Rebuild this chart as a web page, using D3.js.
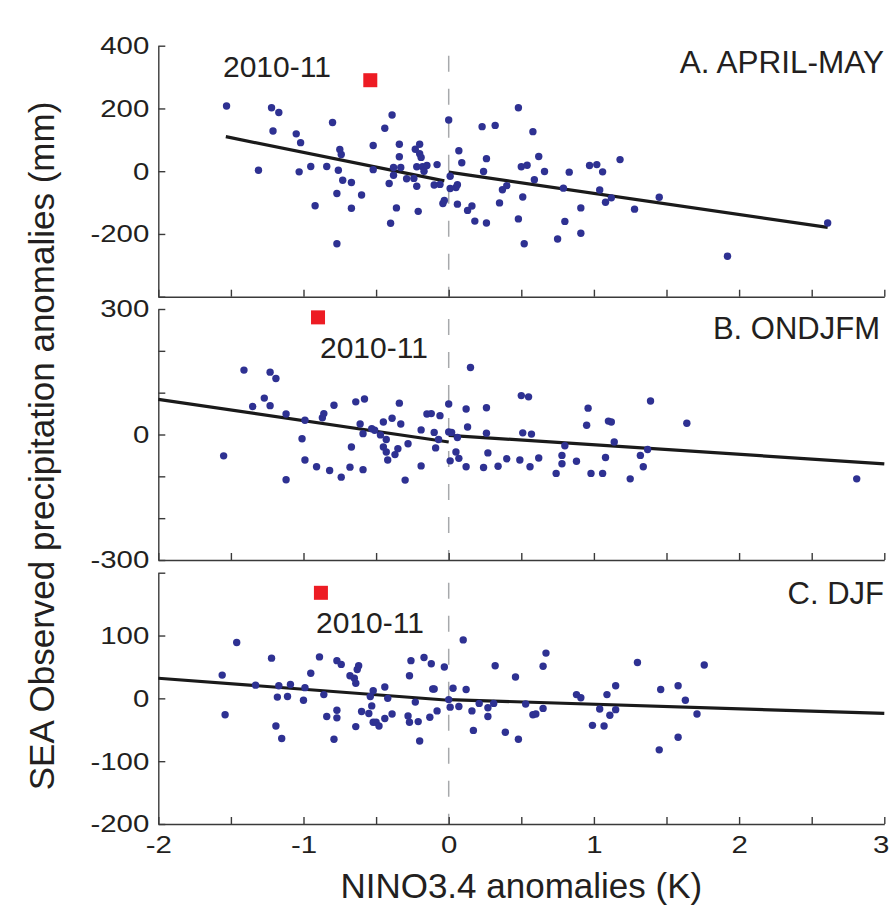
<!DOCTYPE html>
<html>
<head>
<meta charset="utf-8">
<script src="https://cdn.jsdelivr.net/npm/d3@7"></script>
<style>
body { margin: 0; background: #fff; }
svg text { font-family: "Liberation Sans", Arial, Helvetica, sans-serif; fill: #231f20; }
</style>
</head>
<body>
<svg id="chart" width="891" height="907"></svg>
<script>
// NINO3.4 anomaly (K) vs SEA precipitation anomaly (mm), one pair per year
var aprMayPts = [[-1.53,208],[-1.31,3],[-1.22,202],[-1.17,187],[-1.21,128],[-1.05,119],[-1.02,91],[-1.03,-2],
  [-0.95,15],[-0.92,-110],[-0.84,15],[-0.80,155],[-0.77,-231],[-0.77,-71],[-0.76,3],[-0.75,69],[-0.74,53],
  [-0.73,-29],[-0.67,-36],[-0.67,-118],[-0.60,-76],[-0.52,82],[-0.52,5],[-0.44,137],[-0.39,179],[-0.41,-39],
  [-0.40,-166],[-0.38,12],[-0.38,-13],[-0.36,-117],[-0.34,86],[-0.34,46],[-0.33,12],[-0.29,-24],[-0.24,-23],
  [-0.23,70],[-0.20,86],[-0.20,56],[-0.19,44],[-0.22,14],[-0.22,-48],[-0.21,-128],[-0.18,14],[-0.17,0],
  [-0.15,18],[-0.08,21],[-0.10,-44],[-0.06,-42],[-0.04,-103],[-0.03,-93],[0.00,163],[0.01,-55],[0.01,-16],
  [0.05,-52],[0.06,-43],[0.06,-105],[0.07,65],[0.09,27],[0.13,-125],[0.16,-111],[0.18,-159],[0.23,142],
  [0.24,-1],[0.26,40],[0.26,-165],[0.32,146],[0.35,-101],[0.37,-59],[0.40,-46],[0.48,202],[0.48,-152],
  [0.50,14],[0.51,-82],[0.52,-231],[0.54,19],[0.58,126],[0.59,-27],[0.62,47],[0.66,-1],[0.75,-216],
  [0.79,-54],[0.80,-160],[0.83,-3],[0.91,-117],[0.91,-198],[0.97,18],[1.02,21],[1.06,-2],[1.04,-60],
  [1.08,-99],[1.12,-85],[1.18,37],[1.28,-121],[1.45,-83],[1.92,-271],[2.61,-165]];
var ondjfmPts = [[-1.55,-51],[-1.41,154],[-1.35,67],[-1.27,87],[-1.23,149],[-1.23,69],[-1.19,134],[-1.12,49],
  [-1.12,-108],[-1.01,-10],[-0.99,34],[-0.99,-61],[-0.91,-77],[-0.87,40],[-0.86,50],[-0.82,-86],[-0.79,70],
  [-0.74,-102],[-0.67,-30],[-0.68,-78],[-0.64,78],[-0.61,25],[-0.59,2],[-0.58,85],[-0.59,-84],[-0.53,14],
  [-0.51,10],[-0.47,-1],[-0.45,30],[-0.45,-30],[-0.43,-12],[-0.43,-42],[-0.42,-61],[-0.39,39],[-0.37,-48],
  [-0.35,-34],[-0.34,75],[-0.33,25],[-0.30,-109],[-0.28,-22],[-0.19,11],[-0.19,-75],[-0.15,49],[-0.12,50],
  [-0.10,5],[-0.09,-32],[-0.07,-12],[-0.06,45],[0.00,73],[0.00,6],[0.01,-63],[0.02,5],[0.05,-42],[0.06,-7],
  [0.07,-57],[0.12,61],[0.13,18],[0.12,-77],[0.15,160],[0.24,-79],[0.26,64],[0.26,3],[0.27,-44],[0.34,-76],
  [0.40,-58],[0.49,-61],[0.50,93],[0.51,4],[0.55,90],[0.56,-77],[0.57,1],[0.62,-56],[0.74,-93],[0.78,-50],
  [0.78,-70],[0.80,-27],[0.88,-64],[0.95,22],[0.96,63],[0.98,-93],[1.06,-93],[1.08,-55],[1.10,32],[1.12,30],
  [1.14,-18],[1.25,-106],[1.32,-50],[1.34,-77],[1.37,-36],[1.39,80],[1.64,27],[2.81,-106]];
var djfPts = [[-1.56,37],[-1.54,-26],[-1.46,89],[-1.33,21],[-1.22,64],[-1.19,-44],[-1.18,2],[-1.17,20],
  [-1.15,-64],[-1.11,3],[-1.09,22],[-1.00,-3],[-0.99,17],[-0.95,40],[-0.89,66],[-0.86,6],[-0.84,-29],
  [-0.79,-65],[-0.77,60],[-0.77,-19],[-0.77,-31],[-0.74,54],[-0.68,36],[-0.65,32],[-0.64,24],[-0.63,46],
  [-0.62,52],[-0.64,-45],[-0.60,-21],[-0.55,-24],[-0.54,3],[-0.52,12],[-0.53,-12],[-0.52,-38],[-0.50,-38],
  [-0.48,-44],[-0.44,-32],[-0.44,18],[-0.42,0],[-0.39,-25],[-0.28,-28],[-0.27,-38],[-0.27,36],[-0.26,60],
  [-0.23,-6],[-0.21,-37],[-0.20,-68],[-0.17,65],[-0.13,-30],[-0.12,55],[-0.11,15],[-0.10,15],[-0.08,-20],
  [-0.03,50],[0.00,-2],[0.01,-14],[0.03,16],[0.07,-13],[0.10,93],[0.12,14],[0.16,-20],[0.17,-51],[0.21,-8],
  [0.27,-15],[0.27,-29],[0.31,-8],[0.32,52],[0.39,-54],[0.46,34],[0.48,-65],[0.53,-9],[0.58,-26],[0.60,-25],
  [0.65,51],[0.65,-16],[0.67,72],[0.88,6],[0.91,1],[0.99,-43],[1.04,-17],[1.07,-44],[1.09,6],[1.11,-27],
  [1.15,-18],[1.15,20],[1.30,57],[1.45,-82],[1.46,14],[1.58,-62],[1.58,20],[1.63,-3],[1.71,-25],[1.76,53]];

// 2010-11 season
var aprMayRed = [-0.54, 290];
var ondjfmRed = [-0.90, 280];
var djfRed = [-0.88, 168];

// regression fits, separate for La Nina (x<0) and El Nino (x>0)
var aprMayFit = [[[-1.535,110],[-0.03,-31]], [[0,-3],[2.61,-179]]];
var ondjfmFit = [[[-2,84],[0,-18]], [[0,-2],[3,-70]]];
var djfFit = [[[-2,32],[0,-3]], [[0,-2],[3,-24]]];

var titles = ['A. APRIL-MAY', 'B. ONDJFM', 'C. DJF'];
var yDomains = [[-400,400], [-300,300], [-200,200]];
var yTicks = [[-400,-200,0,200,400], [-300,-200,-100,0,100,200,300], [-200,-100,0,100,200]];
var yTickLabels = [[-200,0,200,400], [-300,0,300], [-200,-100,0,100]];
var xTicks = [-2,-1.5,-1,-0.5,0,0.5,1,1.5,2,2.5,3];

var svg = d3.select('#chart');
var x = d3.scaleLinear().domain([-2, 3]).range([158.3, 884.3]);

// pixel layout of each panel
var layout = [
  {top: 45.7, bottom: 296.7, titleX: 884, titleY: 73, titleSize: 31.5, noteX: 223, noteY: 77},
  {top: 309, bottom: 560, titleX: 880, titleY: 339, titleSize: 31, noteX: 320, noteY: 358},
  {top: 572.7, bottom: 824, titleX: 884, titleY: 604, titleSize: 31, noteX: 316, noteY: 633}
];
var allPts = [aprMayPts, ondjfmPts, djfPts];
var allRed = [aprMayRed, ondjfmRed, djfRed];
var allFit = [aprMayFit, ondjfmFit, djfFit];

var tickScale = 1.2;
var axisColor = '#3a3a3a';

layout.forEach(function(L, i) {
  var y = d3.scaleLinear().domain(yDomains[i]).range([L.bottom, L.top]);
  var g = svg.append('g');

  // dashed zero line
  g.append('line')
    .attr('x1', x(0)).attr('x2', x(0))
    .attr('y1', L.top).attr('y2', L.bottom)
    .attr('stroke', '#a7a9ac')
    .attr('stroke-width', 1.5)
    .attr('stroke-dasharray', '16,17')
    .attr('stroke-dashoffset', 23);

  // left axis
  var labels = yTickLabels[i];
  var yAxis = d3.axisLeft(y)
    .tickValues(yTicks[i])
    .tickSizeInner(-7).tickSizeOuter(0)
    .tickPadding(9 / tickScale)
    .tickFormat(function(d) { return labels.indexOf(d) >= 0 ? String(d) : ''; });
  var ya = g.append('g')
    .attr('transform', 'translate(' + x.range()[0] + ',0)')
    .call(yAxis);

  // bottom axis, numbers only under the last panel
  var xAxis = d3.axisBottom(x)
    .tickValues(xTicks)
    .tickSizeInner(-7).tickSizeOuter(0)
    .tickPadding(12)
    .tickFormat(function(d) { return (i == 2 && Number.isInteger(d)) ? String(d) : ''; });
  var xa = g.append('g')
    .attr('transform', 'translate(0,' + L.bottom + ')')
    .call(xAxis);

  [ya, xa].forEach(function(a) {
    a.attr('font-size', null).attr('font-family', null);
    a.select('.domain').attr('stroke', axisColor).attr('stroke-width', 1.4);
    a.selectAll('.tick line').attr('stroke', axisColor).attr('stroke-width', 1.4);
    a.selectAll('.tick text')
      .style('font-size', '24.5px')
      .attr('fill', '#231f20')
      .attr('transform', 'scale(' + tickScale + ',1)');
  });
  // keep the "3" inside the frame
  xa.selectAll('.tick text').filter(function(d) { return d == 3; }).attr('dx', -3);

  // regression lines
  var line = d3.line().x(function(d) { return x(d[0]); }).y(function(d) { return y(d[1]); });
  g.selectAll('path.fit')
    .data(allFit[i])
    .enter().append('path')
    .attr('class', 'fit')
    .attr('d', line)
    .attr('fill', 'none')
    .attr('stroke', '#1a1a1a')
    .attr('stroke-width', 3.2);

  // yearly points
  g.selectAll('circle')
    .data(allPts[i])
    .enter().append('circle')
    .attr('cx', function(d) { return x(d[0]); })
    .attr('cy', function(d) { return y(d[1]); })
    .attr('r', 3.7)
    .attr('fill', '#2e3192');

  // 2010-11 marker
  var red = allRed[i];
  g.append('rect')
    .attr('x', x(red[0]) - 7).attr('y', y(red[1]) - 7)
    .attr('width', 14).attr('height', 14)
    .attr('fill', '#ed1c24');

  g.append('text')
    .attr('x', L.noteX).attr('y', L.noteY)
    .style('font-size', '30px')
    .text('2010-11');

  g.append('text')
    .attr('x', L.titleX).attr('y', L.titleY)
    .attr('text-anchor', 'end')
    .style('font-size', L.titleSize + 'px')
    .text(titles[i]);
});

// axis titles
svg.append('text')
  .attr('transform', 'translate(54,446) rotate(-90)')
  .attr('text-anchor', 'middle')
  .style('font-size', '35px')
  .text('SEA Observed precipitation anomalies (mm)');

svg.append('text')
  .attr('x', (x.range()[0] + x.range()[1]) / 2)
  .attr('y', 898)
  .attr('text-anchor', 'middle')
  .style('font-size', '35px')
  .text('NINO3.4 anomalies (K)');
</script>
</body>
</html>
